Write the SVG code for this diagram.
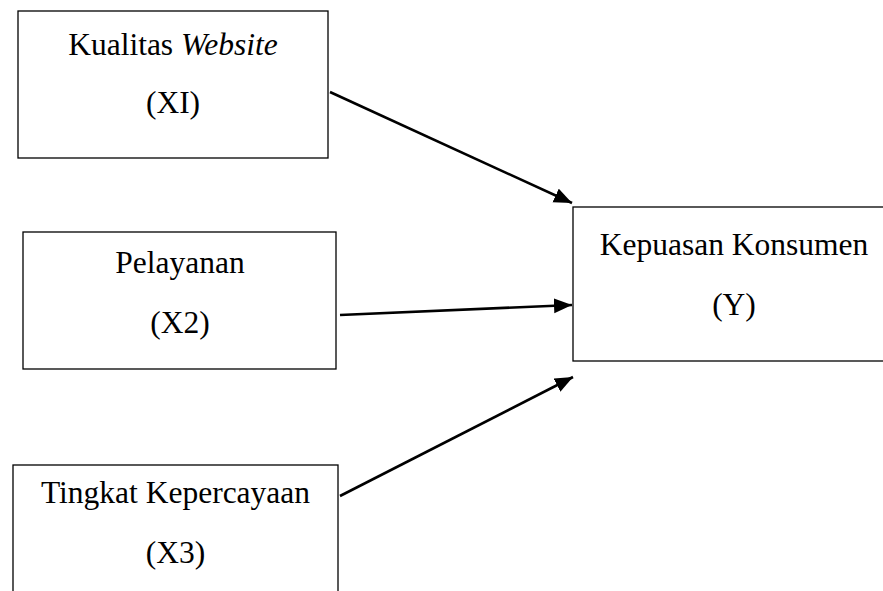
<svg xmlns="http://www.w3.org/2000/svg" width="883" height="591" viewBox="0 0 883 591">
<style>
.box{fill:#fff;stroke:#000;stroke-width:1.3}
.t{font-family:"Liberation Serif","Times New Roman",serif;font-size:31.5px;fill:#000;text-anchor:middle}
.edge{stroke:#000;stroke-width:2.6;fill:none}
</style>
<defs>
<marker id="ah" markerUnits="userSpaceOnUse" markerWidth="20" markerHeight="16" refX="18" refY="7.5" orient="auto">
<path d="M0,0 L18,7.5 L0,15 Z" fill="#000"/>
</marker>
</defs>
<rect width="883" height="591" fill="#fff"/>
<g id="x1">
<rect class="box" x="18" y="11" width="310" height="147"/>
<text class="t" x="173" y="55">Kualitas <tspan font-style="italic">Website</tspan></text>
<text class="t" x="173" y="113">(XI)</text>
</g>
<g id="x2">
<rect class="box" x="23" y="232" width="313" height="137"/>
<text class="t" x="180" y="273">Pelayanan</text>
<text class="t" x="180" y="333">(X2)</text>
</g>
<g id="x3">
<rect class="box" x="13" y="465" width="325" height="140"/>
<text class="t" x="175.5" y="503">Tingkat Kepercayaan</text>
<text class="t" x="175.5" y="563">(X3)</text>
</g>
<g id="y">
<rect class="box" x="573" y="207" width="322" height="154"/>
<text class="t" x="734" y="255">Kepuasan Konsumen</text>
<text class="t" x="734" y="315">(Y)</text>
</g>
<g id="connectors">
<line class="edge" x1="330" y1="92" x2="572" y2="203" marker-end="url(#ah)"/>
<line class="edge" x1="340" y1="315" x2="572" y2="305" marker-end="url(#ah)"/>
<line class="edge" x1="340" y1="496" x2="573" y2="377" marker-end="url(#ah)"/>
</g>
</svg>
